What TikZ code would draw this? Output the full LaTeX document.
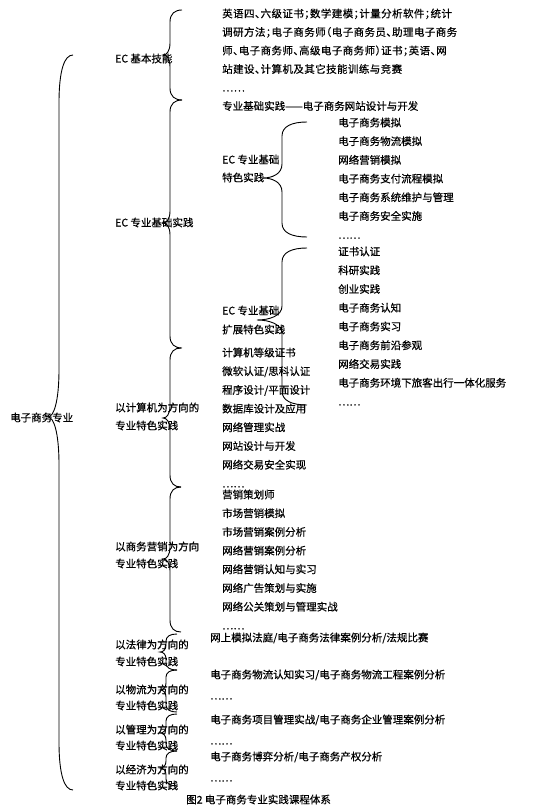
\documentclass[tikz,border=0pt]{standalone}
\usepackage{fontspec}
\newfontfamily\cjkfont[FakeBold=0.5]{Noto Sans CJK SC}
\newfontfamily\cjkhalt[FakeBold=0.5,RawFeature=+halt,LetterSpace=4]{Noto Sans CJK SC}
\usetikzlibrary{positioning}
\tikzset{
  txt/.style={font=\cjkfont\fontsize{10.5}{12}\selectfont,inner sep=0pt,
              anchor=west,text height=8.5pt,text depth=1.5pt},
  htxt/.style={txt,font=\cjkhalt\fontsize{10.5}{12}\selectfont},
  brc/.style={draw=black,line width=0.9pt},
}
% curly brace: stem x, end x, tip x, top y, tip y, bottom y, curl length
\newcommand{\curlybr}[7]{%
  \draw[brc] (#2,#4) .. controls ({#1+0.4*(#2-#1)},#4) and (#1,{#4+0.3*#7}) .. (#1,{#4+#7})
    -- (#1,{#5-#7}) .. controls (#1,{#5-0.3*#7}) and ({#1-0.5*(#1-#3)},#5) .. (#3,#5)
    .. controls ({#1-0.5*(#1-#3)},#5) and (#1,{#5+0.3*#7}) .. (#1,{#5+#7})
    -- (#1,{#6-#7}) .. controls (#1,{#6-0.3*#7}) and ({#1+0.4*(#2-#1)},#6) .. (#2,#6);}

\begin{document}
\begin{tikzpicture}[x=1pt,y=-1pt]
  \useasboundingbox (0,0) rectangle (541,808);

  % root
  \node[txt] (root) at (10,418) {电子商务专业};
  \curlybr{59}{73}{48}{55}{417}{790}{48}

  % second level
  \node[txt] (basic) at (115,59) {EC 基本技能};
  \node[txt] (prof) at (115,223) {EC 专业基础实践};
  \node[txt] (comp1) at (115,408) {以计算机为方向的};
  \node[txt] (comp2) at (115,426) {专业特色实践};
  \node[txt] (mkt1) at (115,547) {以商务营销为方向};
  \node[txt] (mkt2) at (115,564) {专业特色实践};
  \node[txt] (law1) at (115,645) {以法律为方向的};
  \node[txt] (law2) at (115,662) {专业特色实践};
  \node[txt] (log1) at (115,690) {以物流为方向的};
  \node[txt] (log2) at (115,706) {专业特色实践};
  \node[txt] (man1) at (115,730) {以管理为方向的};
  \node[txt] (man2) at (115,746) {专业特色实践};
  \node[txt] (eco1) at (115,770) {以经济为方向的};
  \node[txt] (eco2) at (115,786) {专业特色实践};

  \curlybr{170}{182}{163}{10}{55}{100}{12}
  \curlybr{170}{182}{163}{100}{223}{348}{12}
  \curlybr{170}{181}{163}{348}{418}{487}{12}
  \curlybr{170}{181}{163}{487}{559}{632}{12}
  \curlybr{166}{177}{160}{634}{652}{670}{7}
  \curlybr{166}{177}{160}{670}{690}{712}{7}
  \curlybr{166}{177}{160}{714}{733}{751}{7}
  \curlybr{166}{177}{160}{751}{768}{786}{7}

  % EC basic skills
  \foreach \t [count=\i from 0] in {英语四、六级证书；数学建模；计量分析软件；统计,
      调研方法；电子商务师（电子商务员、助理电子商务,
      师、电子商务师、高级电子商务师）证书；英语、网,
      站建设、计算机及其它技能训练与竞赛,……}
    \node[htxt] (bs-\i) at (222,{14+18.5*\i}) {\t};
  \node[txt] (web) at (222,106.5) {专业基础实践——电子商务网站设计与开发};

  % EC basic feature practice
  \node[txt] (ft1) at (222,160) {EC 专业基础};
  \node[txt] (ft2) at (222,178) {特色实践};
  \curlybr{282}{307}{263}{122}{178}{237}{14}
  \foreach \t [count=\i from 0] in {电子商务模拟,电子商务物流模拟,网络营销模拟,
      电子商务支付流程模拟,电子商务系统维护与管理,电子商务安全实施,……}
    \node[txt] (ft-\i) at (338,{123+18.7*\i}) {\t};

  % EC extended feature practice
  \node[txt] (ex1) at (222,311) {EC 专业基础};
  \node[txt] (ex2) at (222,330) {扩展特色实践};
  \curlybr{282}{307}{257}{248}{320}{405}{14}
  \foreach \t [count=\i from 0] in {证书认证,科研实践,创业实践,电子商务认知,
      电子商务实习,电子商务前沿参观,网络交易实践,电子商务环境下旅客出行一体化服务,……}
    \node[txt] (ex-\i) at (338,{252+18.75*\i}) {\t};

  % computer direction
  \foreach \t [count=\i from 0] in {计算机等级证书,微软认证/思科认证,程序设计/平面设计,
      数据库设计及应用,网络管理实战,网站设计与开发,网络交易安全实现,……}
    \node[txt] (cp-\i) at (222,{353+18.7*\i}) {\t};

  % marketing direction
  \foreach \t [count=\i from 0] in {营销策划师,市场营销模拟,市场营销案例分析,网络营销案例分析,
      网络营销认知与实习,网络广告策划与实施,网络公关策划与管理实战,……}
    \node[txt] (mk-\i) at (222,{495+18.7*\i}) {\t};

  % other directions
  \node[txt] (lw) at (210,638) {网上模拟法庭/电子商务法律案例分析/法规比赛};
  \node[txt] (lg) at (210,675) {电子商务物流认知实习/电子商务物流工程案例分析};
  \node[txt] (lgd) at (210,696) {……};
  \node[txt] (mn) at (210,720) {电子商务项目管理实战/电子商务企业管理案例分析};
  \node[txt] (mnd) at (210,741) {……};
  \node[txt] (ec) at (210,757) {电子商务博弈分析/电子商务产权分析};
  \node[txt] (ecd) at (210,778) {……};

  \node[txt] (cap) at (186,800) {图2 电子商务专业实践课程体系};
\end{tikzpicture}
\end{document}
